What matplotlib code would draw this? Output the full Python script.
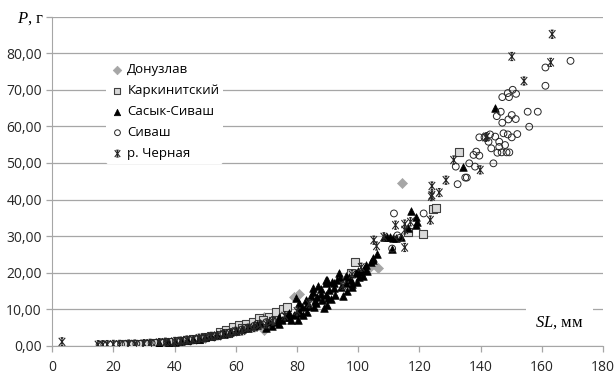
import numpy as np
import matplotlib
matplotlib.use("Agg")
import matplotlib.pyplot as plt
from matplotlib.path import Path
from matplotlib.ticker import FuncFormatter, MultipleLocator

plt.rcParams['font.family'] = ['Open Sans', 'DejaVu Sans']
plt.rcParams['mathtext.fontset'] = 'custom'
plt.rcParams['mathtext.it'] = 'Liberation Serif:italic'
plt.rcParams['mathtext.rm'] = 'Liberation Serif'

# --- data: SL (mm), P (g) ---
donuzlav_sl = [45, 50, 55, 60, 64, 69.3, 69.3, 72, 76, 79, 80.7, 85, 104, 106.5, 114.2,
               41, 47, 53, 57, 62, 66]
donuzlav_p = [1.6, 2.2, 3.0, 4.2, 5.4, 4.3, 7.9, 7.5, 9.5, 13.4, 14.3, 13.0, 21.5, 21.2, 44.4,
              1.2, 1.9, 2.6, 3.5, 4.6, 5.9]

karkin_sl = [23, 28, 33, 38, 44, 48, 52, 54.7, 56.9, 59.0, 61.2, 63.4, 65.5, 67.7, 71.0,
             73.1, 75.3, 76.9, 97.6, 99.0, 116.3, 121.1, 124.3, 125.5, 132.8,
             26, 31, 36, 41, 46, 50, 57.5, 62, 69]
karkin_p = [0.4, 0.5, 0.8, 1.1, 1.6, 2.0, 2.6, 3.8, 4.3, 5.2, 5.7, 6.1, 6.6, 7.5, 7.9,
            9.3, 10.2, 10.7, 19.8, 23.0, 31.2, 30.6, 37.3, 37.8, 53.1,
            0.45, 0.6, 0.9, 1.3, 1.8, 2.3, 3.5, 4.8, 7.2]

sasyk_sl = [38, 42, 46, 50, 54, 58, 62, 66, 68, 70,
            72, 73.5, 74.2, 75, 76, 76.9, 77.5, 78, 79, 79.6, 80.2, 80.2, 80.7, 81.5, 82,
            82.9, 83.4, 84, 84.5, 85.1, 85.1, 85.5, 86.2, 86.7, 87, 87.8, 88.3, 88.8, 89.4,
            89.4, 89.4, 89.9, 89.9, 90.5, 91, 91.6, 92.1, 92.5, 93.2, 93.8, 94.5, 95, 95.9,
            96.5, 97, 97.6, 98, 99.2, 99.5, 100.3, 100.8, 101.5, 102.4, 103, 104.1, 104.8,
            106, 108.4, 109.5, 110.5, 111.5, 112.5, 113.9, 111.1, 116.3, 117.4, 119.0, 119.2,
            119.0, 134.1, 144.6,
            35, 40, 44, 48, 52, 56, 60, 64, 67, 71, 74, 77, 81, 83, 86, 88, 90, 92, 94,
            96, 98, 100, 102, 105]
sasyk_p = [1.0, 1.3, 1.8, 2.3, 3.0, 3.8, 4.6, 5.5, 6.2, 5.0,
           5.5, 6.5, 6.1, 7.2, 8.0, 7.9, 9.0, 7.0, 8.5, 13.0, 9.8, 7.0, 11.6, 10.5, 8.5,
           12.5, 9.3, 11.0, 13.5, 14.8, 15.7, 10.5, 11.6, 13.4, 16.5, 14.3, 12.5, 10.3, 13.9,
           18.0, 17.1, 11.1, 18.0, 15.2, 12.8, 17.5, 17.1, 14.0, 18.0, 19.8, 16.0, 13.5, 17.1,
           15.0, 18.9, 18.0, 16.2, 19.8, 17.5, 18.9, 20.2, 19.0, 22.1, 20.5, 23.0, 23.4,
           25.1, 29.8, 29.8, 29.8, 29.5, 29.6, 29.8, 26.6, 32.1, 36.9, 35.1, 33.9,
           33.0, 49.0, 64.9,
           0.8, 1.1, 1.5, 2.0, 2.6, 3.3, 4.2, 5.0, 5.7, 6.4, 7.8, 8.2, 9.0, 10.8, 12.3,
           15.5, 13.0, 15.8, 18.6, 19.0, 17.0, 20.5, 21.0, 24.0]

sivash_sl = [15.5, 17, 19, 21, 24, 26, 29, 31, 34, 36, 39, 41, 43, 47, 50, 53, 56, 58,
             60, 62, 64, 67, 70, 111.7, 121.4, 111.1, 112.8, 113.5,
             169.4, 161.2, 161.2, 150.5, 148.9, 147.1, 149.3, 151.6, 146.6, 155.4, 158.7,
             145.3, 150.2, 147.1, 149.1, 151.5, 155.9, 139.6, 141.3, 143.1, 144.8, 147.5,
             148.9, 150.2, 152.0, 142.6, 146.1, 143.5, 146.1, 148.0, 145.5, 146.9, 148.5,
             149.4, 144.2, 131.9, 136.3, 138.2, 137.7, 138.6, 139.6, 135.0, 135.5, 132.5,
             22.5, 27.5, 32.5, 37.5, 42, 45, 49, 52, 55, 59, 63, 66, 72]
sivash_p = [0.3, 0.3, 0.35, 0.4, 0.45, 0.5, 0.6, 0.7, 0.85, 1.0, 1.1, 1.3, 1.4, 1.8, 2.3,
            2.6, 3.3, 3.6, 4.1, 4.5, 5.0, 6.0, 6.5, 36.2, 36.2, 26.6, 30.2, 29.5,
            77.9, 76.1, 71.1, 70.0, 69.1, 68.0, 68.0, 68.9, 64.0, 64.0, 64.0,
            62.8, 63.1, 61.0, 61.9, 62.0, 59.9, 57.0, 57.0, 57.8, 57.2, 58.1,
            57.8, 57.0, 57.9, 55.8, 55.8, 54.0, 54.4, 54.9, 52.8, 52.9, 52.9,
            52.9, 49.9, 49.0, 49.9, 49.0, 52.2, 53.1, 52.0, 46.0, 46.0, 44.2,
            0.4, 0.55, 0.75, 1.0, 1.4, 1.6, 2.1, 2.5, 3.0, 3.9, 4.9, 5.5, 7.0]

chernaya_sl = [3.2, 15, 16.5, 18, 20, 22, 25, 27, 30, 32, 35, 37, 40, 44, 48, 52, 56, 60,
               64, 68, 72, 76, 80, 84, 95, 98, 101,
               105.1, 106, 108.4, 112.2, 115.2, 115.2, 115.2, 117.1, 123.6, 123.9, 124.1,
               124.1, 126.5, 128.7, 131.2, 139.9, 141.7, 142.0, 150.2, 154.2, 162.9, 163.4,
               42, 46, 50, 54, 58, 62, 66, 70]
chernaya_p = [1.1, 0.3, 0.3, 0.35, 0.4, 0.4, 0.5, 0.5, 0.6, 0.7, 0.9, 1.0, 1.2, 1.6, 2.1,
              2.6, 3.3, 4.0, 4.8, 5.8, 6.8, 8.2, 9.5, 11.5, 16.5, 19.5, 21.5,
              28.9, 27.3, 29.8, 33.0, 33.3, 31.7, 26.9, 33.9, 34.4, 40.8, 43.7,
              41.2, 41.9, 45.3, 50.8, 48.1, 57.0, 57.2, 79.1, 72.4, 77.5, 85.2,
              1.3, 1.7, 2.2, 2.8, 3.4, 4.1, 5.0, 6.0]

# star marker like the Excel one (X + vertical bar + short caps)
star_path = Path(
    [(-0.8, -1), (0.8, 1), (-0.8, 1), (0.8, -1), (0, -1), (0, 1),
     (-0.35, 1), (0.35, 1), (-0.35, -1), (0.35, -1)],
    [Path.MOVETO, Path.LINETO, Path.MOVETO, Path.LINETO, Path.MOVETO, Path.LINETO,
     Path.MOVETO, Path.LINETO, Path.MOVETO, Path.LINETO])

fig = plt.figure(figsize=(6.14, 3.78), dpi=100)
ax = fig.add_axes([0.085, 0.085, 0.897, 0.871])

ax.scatter(donuzlav_sl, donuzlav_p, marker='D', s=26, c='#a6a6a6', edgecolors='#a6a6a6',
           linewidths=0.5, label='Донузлав', zorder=3)
ax.scatter(karkin_sl, karkin_p, marker='s', s=28, c='#d9d9d9', edgecolors='#404040',
           linewidths=0.8, label='Каркинитский', zorder=3)
ax.scatter(sasyk_sl, sasyk_p, marker='^', s=30, c='black', edgecolors='black',
           linewidths=0.5, label='Сасык-Сиваш', zorder=3)
ax.scatter(sivash_sl, sivash_p, marker='o', s=24, facecolors='none', edgecolors='#262626',
           linewidths=0.7, label='Сиваш', zorder=3)
ax.scatter(chernaya_sl, chernaya_p, marker=star_path, s=34, facecolors='none',
           edgecolors='#262626', linewidths=0.8, label='р. Черная', zorder=3)

ax.set_xlim(0, 180)
ax.set_ylim(0, 90)
ax.xaxis.set_major_locator(MultipleLocator(20))
ax.yaxis.set_major_locator(MultipleLocator(10))
ax.yaxis.set_major_formatter(FuncFormatter(
    lambda v, pos: '' if v > 85 else f'{v:.2f}'.replace('.', ',')))

ax.grid(axis='y', color='#a6a6a6', linewidth=0.9, zorder=0)
ax.set_axisbelow(True)
for side in ['top', 'right']:
    ax.spines[side].set_visible(False)
ax.spines['left'].set_color('#a6a6a6')
ax.spines['bottom'].set_color('#a6a6a6')
ax.tick_params(axis='both', colors='#a6a6a6', length=4, width=0.9,
               labelcolor='#262626', labelsize=10)
ax.tick_params(axis='x', pad=6)

leg = ax.legend(loc='upper left', bbox_to_anchor=(0.085, 0.89), frameon=True,
                fontsize=9.5, handletextpad=0.15, labelspacing=0.6, borderpad=0.3,
                handlelength=1.2, scatterpoints=1, markerscale=0.85)
leg.get_frame().set_edgecolor('none')
leg.get_frame().set_facecolor('white')
leg.get_frame().set_alpha(1)

fig.text(0.027, 0.94, r'$P$, г', fontsize=12, family='Liberation Serif', color='black')
ax.text(0.965, 0.072, r'$SL$, мм', transform=ax.transAxes, fontsize=12,
        family='Liberation Serif', ha='right', va='center', zorder=4,
        bbox=dict(boxstyle='square,pad=0.55', facecolor='white', edgecolor='none'))

fig.savefig('out.png', dpi=100)
